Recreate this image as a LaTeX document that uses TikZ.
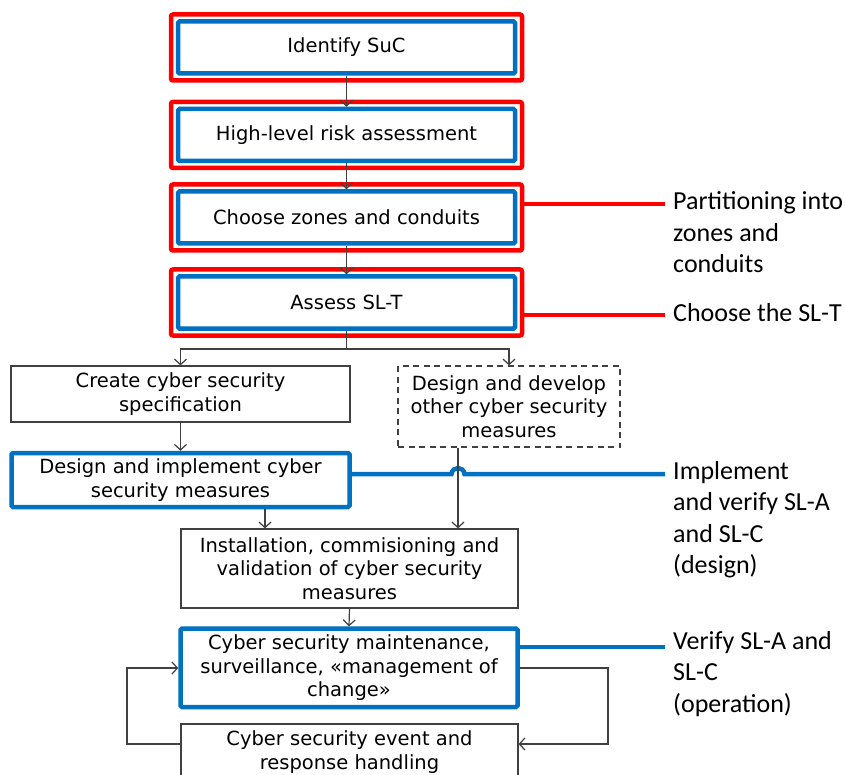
\documentclass[tikz,border=0pt]{standalone}
\usepackage{fontspec}
\setmainfont{DejaVu Sans}
\newfontfamily\lblfont{Carlito}
\usetikzlibrary{arrows.meta,fit,calc}

\definecolor{frameRed}{HTML}{FF0000}
\definecolor{stepBlue}{HTML}{0070C0}
\definecolor{lineGray}{HTML}{404040}

\begin{document}
\begin{tikzpicture}[x=1pt,y=-1pt,
  font=\fontsize{19.5}{23.5}\selectfont,
  plainbox/.style={draw=lineGray, line width=1.2pt, align=center,
    inner sep=0pt, outer sep=0.6pt, text=black},
  dashbox/.style={plainbox, dash pattern=on 6pt off 4.5pt},
  bluebox/.style={draw=stepBlue, line width=4.5pt, align=center,
    inner sep=0pt, outer sep=2.25pt, rounded corners=1.5pt, text=black},
  redframe/.style={draw=frameRed, line width=4.5pt, inner sep=4.75pt,
    outer sep=0pt, rounded corners=2pt},
  conn/.style={draw=lineGray, line width=1.2pt,
    -{Straight Barb[length=5.5pt,width=12pt,line width=1.2pt]}},
  plainline/.style={draw=lineGray, line width=1.2pt},
  redlead/.style={draw=frameRed, line width=4.5pt},
  bluelead/.style={draw=stepBlue, line width=4.5pt},
  lbl/.style={font=\lblfont\fontsize{26}{31.5}\selectfont, align=left,
    anchor=base west, inner sep=0pt, text=black}
]
\clip (0,0) rectangle (845,775);
\fill[white] (0,0) rectangle (845,775);

% top chain of assessment steps (blue inside red frames)
\node[bluebox, minimum width=337pt, minimum height=52pt] (suc)   at (346.5,47.5)  {Identify SuC};
\node[bluebox, minimum width=337pt, minimum height=52pt] (hlra)  at (346.5,135)   {High-level risk assessment};
\node[bluebox, minimum width=337pt, minimum height=52pt] (zones) at (346.5,217.5)  {Choose zones and conduits};
\node[bluebox, minimum width=337pt, minimum height=52pt] (slt)   at (346.5,302.5)  {Assess SL-T};

\node[redframe, fit=(suc)]   (sucR)   {};
\node[redframe, fit=(hlra)]  (hlraR)  {};
\node[redframe, fit=(zones)] (zonesR) {};
\node[redframe, fit=(slt)]   (sltR)   {};

% lower steps
\node[plainbox, minimum width=339pt, minimum height=56pt] (spec) at (180.5,394)
  {Create cyber security\\specification};
\node[dashbox, minimum width=222pt, minimum height=81pt] (other) at (509,406.5)
  {Design and develop\\other cyber security\\measures};
\node[bluebox, minimum width=338pt, minimum height=54pt] (design) at (180.5,480)
  {Design and implement cyber\\security measures};
\node[plainbox, minimum width=337pt, minimum height=79pt] (install) at (349.5,568.5)
  {Installation, commisioning and\\validation of cyber security\\measures};
\node[bluebox, minimum width=337pt, minimum height=78.5pt] (maint) at (349,667.75)
  {Cyber security maintenance,\\surveillance, «management of\\change»};
\node[plainbox, minimum width=337pt, minimum height=56pt] (event) at (349.5,752)
  {Cyber security event and\\response handling};

% helper coordinates for routing
\coordinate (splitY)  at (0,349);
\coordinate (dropA)   at (265,0);
\coordinate (dropB)   at (458,0);
\coordinate (loopHi)  at (0,668);
\coordinate (loopLo)  at (0,744);
\coordinate (loopL)   at (127,0);
\coordinate (loopR)   at (608,0);

% label leaders end points
\coordinate (partTip) at (665,204);
\coordinate (sltTip)  at (665,315);
\coordinate (implTip) at (665,474);
\coordinate (verTip)  at (665,647);

% leader lines to the side labels
\draw[redlead] (zonesR.east |- partTip) -- (partTip);
\draw[redlead] (sltR.east |- sltTip) -- (sltTip);
\draw[bluelead] (design.east |- implTip)
  -- ($(dropB |- implTip)+(-6.5,0)$)
  .. controls ($(dropB |- implTip)+(-5.5,-8)$) and ($(dropB |- implTip)+(5.5,-8)$) ..
  ($(dropB |- implTip)+(6.5,0)$) -- (implTip);
\draw[bluelead] (maint.east |- verTip) -- (verTip);

% flow connectors
\draw[conn] (suc.south) -- (hlra.north);
\draw[conn] (hlra.south) -- (zones.north);
\draw[conn] (zones.south) -- (slt.north);
\draw[plainline] (slt.south) -- (slt.south |- splitY);
\draw[conn] (slt.south |- splitY) -| (spec.north);
\draw[conn] (slt.south |- splitY) -| (other.north);
\draw[conn] (spec.south) -- (design.north);
\draw[conn] (design.south -| dropA) -- (install.north -| dropA);
\draw[conn] (other.south -| dropB) -- (install.north -| dropB);
\draw[conn] (install.south) -- (maint.north);
\draw[conn] (event.west |- loopLo) -- (loopL |- loopLo) -- (loopL |- loopHi) -- (maint.west |- loopHi);
\draw[conn] (maint.east |- loopHi) -- (loopR |- loopHi) -- (loopR |- loopLo) -- (event.east |- loopLo);

% side labels (anchored at the baseline of their last line)
\node[lbl] (lblPart) at ($(partTip)+(8,69)$)    {Partitioning into\\zones and\\conduits};
\node[lbl] (lblSlt)  at ($(sltTip)+(8,6)$)      {Choose the SL-T};
\node[lbl] (lblImpl) at ($(implTip)+(8,99.5)$)  {Implement\\and verify SL-A\\and SL-C\\(design)};
\node[lbl] (lblVer)  at ($(verTip)+(8,65)$)     {Verify SL-A and\\SL-C\\(operation)};
\end{tikzpicture}
\end{document}
